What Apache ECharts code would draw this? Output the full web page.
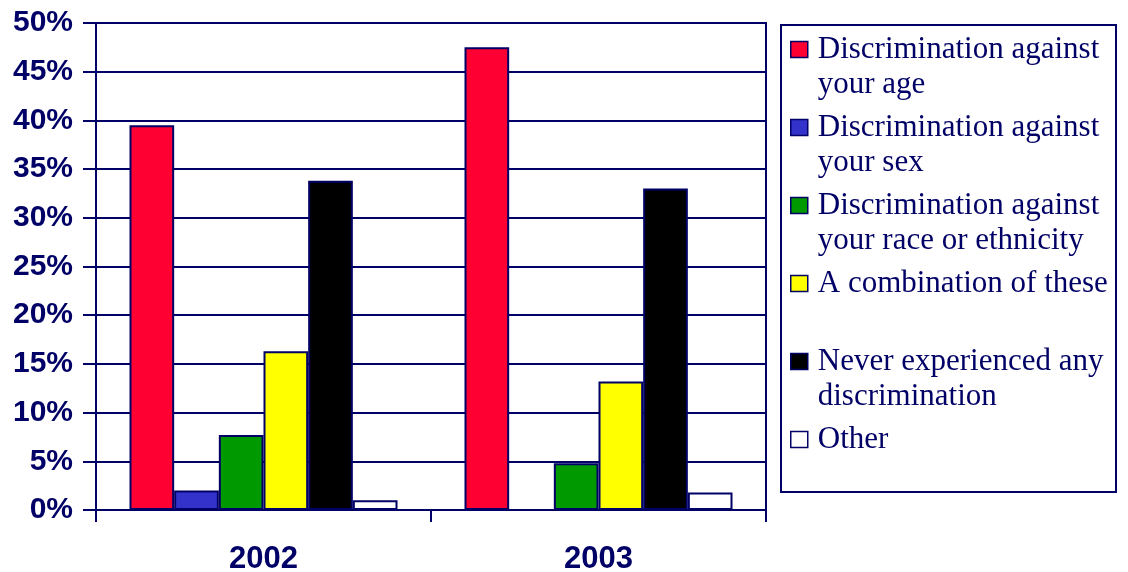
<!DOCTYPE html>
<html>
<head>
<meta charset="utf-8">
<script src="https://cdn.jsdelivr.net/npm/echarts@6/dist/echarts.min.js"></script>
<style>
  html, body { margin: 0; padding: 0; background: #ffffff; }
  #chart { width: 1128px; height: 572px; }
</style>
</head>
<body>
<div id="chart"></div>
<script>
// Survey years on the category axis
const years = ['2002', '2003'];

// Share of respondents (%) per answer, one value per year
const ageDiscrimination = [39.5, 47.5];
const sexDiscrimination = [2.0, 0];
const raceDiscrimination = [7.7, 4.8];
const combination = [16.3, 13.2];
const neverExperienced = [33.8, 33.0];
const other = [1.0, 1.8];

// Legend labels (line breaks as printed)
const seriesNames = [
  'Discrimination against\nyour age',
  'Discrimination against\nyour sex',
  'Discrimination against\nyour race or ethnicity',
  'A combination of these',
  'Never experienced any\ndiscrimination',
  'Other'
];
const seriesData = [ageDiscrimination, sexDiscrimination, raceDiscrimination, combination, neverExperienced, other];
const seriesColors = ['#ff0033', '#3333cc', '#009900', '#ffff00', '#000000', '#ffffff'];

// Y axis ticks
const yMin = 0, yMax = 50, yStep = 5;

const NAVY = '#000066';

const chart = echarts.init(document.getElementById('chart'), null, { renderer: 'canvas' });

const series = seriesNames.map((name, i) => ({
  name: name,
  type: 'bar',
  data: seriesData[i],
  barGap: '0%',
  barCategoryGap: '20%',
  itemStyle: { color: seriesColors[i], borderColor: NAVY, borderWidth: 2 },
  emphasis: { disabled: true }
}));

// Legend text: a blank first line keeps the first text line level with the swatch
function legendText(name) {
  const lines = name.split('\n');
  if (lines.length === 1) lines.push(' ');
  return ' \n' + lines.join('\n');
}

chart.setOption({
  animation: false,
  backgroundColor: '#ffffff',
  grid: {
    left: 96, right: 362, top: 23, bottom: 62,
    outerBoundsMode: 'none',
    containLabel: false,
    show: true, borderColor: NAVY, borderWidth: 2, backgroundColor: 'transparent'
  },
  xAxis: {
    type: 'category',
    data: years,
    axisLine: { lineStyle: { color: NAVY, width: 2 } },
    axisTick: { show: true, length: 12, lineStyle: { color: NAVY, width: 2 } },
    axisLabel: {
      color: NAVY, fontFamily: 'Liberation Sans, Arial, sans-serif',
      fontWeight: 'bold', fontSize: 31, margin: 34
    }
  },
  yAxis: {
    type: 'value',
    min: yMin, max: yMax, interval: yStep,
    axisLine: { show: true, lineStyle: { color: NAVY, width: 2 } },
    axisTick: { show: true, length: 13, lineStyle: { color: NAVY, width: 2 } },
    splitLine: { show: true, lineStyle: { color: NAVY, width: 2 } },
    axisLabel: {
      color: NAVY, fontFamily: 'Liberation Sans, Arial, sans-serif',
      fontWeight: 'bold', fontSize: 30, margin: 23,
      formatter: '{value}%'
    }
  },
  legend: {
    orient: 'vertical',
    left: 790, top: -3,
    padding: 0,
    itemGap: -27,
    itemWidth: 17, itemHeight: 16,
    icon: 'rect',
    selectedMode: false,
    formatter: legendText,
    itemStyle: { borderColor: NAVY, borderWidth: 1.5 },
    textStyle: {
      color: NAVY, fontFamily: 'Liberation Serif, Times New Roman, serif',
      fontSize: 31, lineHeight: 35, padding: [0, 0, 0, 5]
    }
  },
  graphic: [{
    type: 'rect',
    shape: { x: 781, y: 25, width: 335, height: 467 },
    style: { fill: 'none', stroke: NAVY, lineWidth: 2 },
    silent: true
  }],
  series: series
});
</script>
</body>
</html>
